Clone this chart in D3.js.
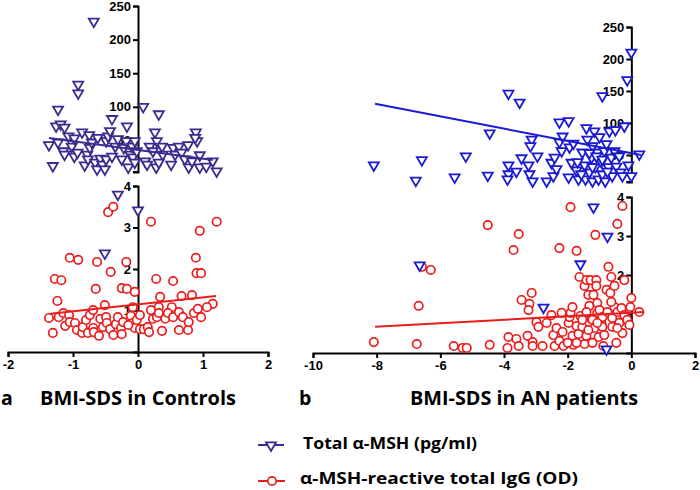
<!DOCTYPE html>
<html><head><meta charset="utf-8">
<script src="https://cdn.jsdelivr.net/npm/d3@7"></script>
<style>body{margin:0;background:#fff}svg{display:block}</style>
</head><body><svg id="c" width="700" height="490"></svg>
<script>
// ---- data ----
const ctrlTicksX = [-2,-1,0,1,2];
const anTicksX = [-10,-8,-6,-4,-2,0,2];
const mshTicks = [50,100,150,200,250];
const iggTicks = [1,2,3,4];

const ctrlMshX = [-0.68,-0.92,-0.92,-1.23,0.08,0.32,-0.40,-0.17,-1.26,-1.19,-1.13,-1.37,-1.31,-1.23,-1.15,-1.13,-1.07,-1.02,-0.98,-0.93,-0.98,-0.86,-0.82,-0.78,-0.75,-0.74,-0.71,-0.77,-0.66,-0.63,-0.62,-0.58,-0.55,-0.51,-0.49,-0.49,-0.46,-0.43,-0.40,-0.35,-0.31,-0.25,-0.22,-0.18,-0.15,-0.12,-0.09,-0.08,-0.05,-0.02,-0.05,0.11,0.14,0.18,0.23,0.26,0.29,0.28,0.32,0.37,0.38,0.51,0.54,0.57,0.63,0.67,0.72,0.77,0.78,0.83,0.89,0.91,0.88,0.95,0.95,1.05,1.15,1.21];
const ctrlMshY = [226,132,119,95,99,88,81,70,70,73,68,42,11,46,33,28,55,40,25,31,52,61,12,28,57,38,46,21,16,6,53,22,13,6,21,48,55,63,25,40,51,21,38,48,9,28,40,24,48,33,16,18,13,40,33,61,48,9,16,40,28,13,38,28,40,31,21,42,9,18,61,48,53,27,9,10,18,3];
const ctrlMshLowX = [-0.31,0,-0.51];
const ctrlMshLowY = [3.78,3.40,2.36];
const ctrlIggX = [-0.46,-0.38,0.20,1.21,0.95,-1.05,-0.92,-0.63,-0.18,0.89,-0.42,0.90,0.97,-1.28,-1.18,0.28,0.54,-0.65,-0.25,-0.17,-0.05,0.34,0.67,0.83,-1.24,-0.51,-0.08,0.20,0.32,0.52,1.15,1.06,-1.37,-1.31,-1.22,-1.15,-1.12,-1.06,-1.05,-0.97,-0.94,-0.86,-0.85,-0.80,-0.77,-0.74,-0.69,-0.69,-0.68,-0.60,-0.58,-0.54,-0.49,-0.48,-0.43,-0.38,-0.34,-0.31,-0.26,-0.25,-0.23,-0.11,-0.08,-0.05,-0.02,0.03,0.09,0.15,0.17,0.23,0.29,0.32,0.37,0.42,0.46,0.54,0.63,0.63,0.69,0.77,0.78,0.86,0.92,0.97,0.03,-0.15];
const ctrlIggY = [3.37,3.50,3.14,3.14,2.92,2.27,2.22,2.17,2.17,2.27,1.93,1.90,1.90,1.76,1.73,1.76,1.71,1.52,1.54,1.52,1.45,1.33,1.35,1.37,1.23,1.13,1.08,1.01,1.08,1.08,1.16,1.08,0.82,0.46,0.84,0.94,0.63,0.89,0.72,0.70,0.53,0.46,0.60,0.77,0.46,0.89,0.58,1.01,0.48,0.39,0.80,0.60,0.84,0.70,0.55,0.41,0.67,0.84,0.58,0.43,0.72,0.87,0.70,0.58,0.77,0.55,0.55,0.60,0.48,0.80,0.84,0.94,0.51,0.80,0.94,0.84,0.96,0.53,0.84,0.53,0.72,0.94,1.04,0.84,0.89,0.65];
const ctrlMshFitX = [-1.37,1.15];
const ctrlMshFitY = [53.6,20.8];
const ctrlIggFitX = [-1.35,1.2];
const ctrlIggFitY = [0.92,1.35];

const anMshX = [0.0,-0.13,-0.91,-3.86,-3.51,-2.26,-1.97,-0.22,-4.45,-8.09,-6.77,-6.58,-5.55,-5.20,-4.51,-3.86,-3.86,-3.89,-3.61,-3.45,-3.23,-3.20,-3.10,-3.13,-3.17,-2.95,-2.66,-2.51,-2.45,-2.41,-2.35,-2.26,-2.16,-2.19,-1.94,-1.88,-1.97,-1.82,-1.72,-1.66,-1.54,-1.47,-1.41,-1.38,-1.44,-1.32,-1.25,-1.22,-1.22,-1.16,-1.13,-1.07,-1.03,-1.00,-0.94,-0.91,-0.85,-0.82,-0.78,-0.72,-0.69,-0.63,-0.60,-0.50,-0.53,-0.47,-0.38,-0.34,-0.28,-0.09,0.0,0.25,-1.69,-1.32,-1.10,-1.57,-0.91,-0.75,-1.22];
const anMshY = [209,166,141,145,131,100,102,94,83,33,9,41,14,47,17,33,19,11,23,44,33,19,8,73,63,47,8,37,16,45,27,69,78,55,61,37,14,67,25,11,53,33,91,73,11,22,45,8,63,86,30,53,11,77,38,19,55,8,66,30,86,45,16,88,55,31,47,22,16,33,16,50,38,52,47,19,42,23,30];
const anMshLowX = [-1.19,-0.75,-6.65,-1.60,-2.76,-0.78];
const anMshLowY = [3.72,2.97,2.23,2.26,1.15,0.08];
const anIggX = [-1.91,-0.28,-4.51,-0.44,-3.54,-1.13,-3.70,-2.26,-1.72,-6.58,-6.30,-6.68,-8.09,-6.74,-5.58,-5.30,-5.17,-4.45,-3.89,-3.86,-3.61,-3.54,-3.45,-3.20,-3.13,-3.23,-3.26,-3.10,-3.10,-2.98,-2.92,-2.79,-2.66,-2.51,-2.45,-2.41,-2.35,-2.26,-2.19,-2.16,-2.13,-1.97,-1.94,-1.91,-1.85,-1.85,-1.82,-1.72,-1.66,-1.63,-1.60,-1.54,-1.47,-1.47,-1.41,-1.41,-1.35,-1.32,-1.28,-1.25,-1.22,-1.19,-1.16,-1.10,-1.10,-1.07,-1.07,-1.03,-1.00,-0.94,-0.91,-0.91,-0.88,-0.85,-0.78,-0.75,-0.72,-0.66,-0.63,-0.60,-0.60,-0.53,-0.53,-0.47,-0.44,-0.38,-0.31,-0.28,-0.22,-0.22,-0.13,-0.06,0.00,-0.03,0.25,-1.41,-1.54,-1.35,-1.22,-1.07,-0.63,-0.44,-1.72,-2.00];
const anIggY = [3.74,3.77,3.28,3.31,3.05,3.03,2.64,2.69,2.62,2.21,2.13,1.21,0.28,0.23,0.18,0.13,0.13,0.21,0.13,0.41,0.36,0.18,1.36,1.26,1.54,1.10,0.44,0.28,0.18,0.79,0.67,0.18,0.77,0.97,0.46,0.18,0.64,0.31,1.03,0.54,0.18,0.77,0.92,1.03,0.44,1.18,0.21,0.69,0.49,1.95,0.95,0.67,1.72,0.23,1.87,0.44,1.49,1.21,1.87,0.87,0.26,1.49,0.64,1.87,1.72,1.28,1.03,0.41,1.10,0.77,0.92,0.67,0.18,0.46,1.62,1.05,2.21,1.54,1.95,0.67,0.90,1.72,1.18,0.26,1.05,0.77,1.15,0.51,1.87,0.97,0.85,0.72,1.41,1.18,1.05,1.05,0.85,0.59,0.85,0.77,1.31,0.64,0.26,0.26];
const anMshFitX = [-8.05,0.3];
const anMshFitY = [130,50];
const anIggFitX = [-8.05,0.4];
const anIggFitY = [0.67,1.05];

const legendLabels = ["Total \u03b1-MSH (pg/ml)", "\u03b1-MSH-reactive total IgG (OD)"];

// ---- drawing ----
const svg = d3.select("#c");
const PURPLE = "#3b2b8e", BLUE = "#1a1ad2", RED = "#ec1c1c";
const tickFont = "bold 13px 'Liberation Sans', Arial, sans-serif";

const tri = "M-5,-3.6L5,-3.6L0,5Z";

function styleAxis(g){
  g.selectAll("path,line").attr("stroke","#000").attr("stroke-width",2);
  g.selectAll("text").style("font",tickFont).attr("fill","#000");
}

function panel(cfg){
  const x = d3.scaleLinear().domain(cfg.xDom).range(cfg.xRange);
  const yU = d3.scaleLinear().domain(cfg.yUDom).range(cfg.yURange);
  const yL = d3.scaleLinear().domain([0,4]).range(cfg.yLRange);
  const g = svg.append("g");
  const gx = g.append("g").attr("transform",`translate(0,${cfg.yLRange[0]})`)
    .call(d3.axisBottom(x).tickValues(cfg.xTicks).tickSizeOuter(0).tickSize(5).tickPadding(3).tickFormat(d=>String(d)));
  styleAxis(gx);
  const gyu = g.append("g").attr("transform",`translate(${x(0)},0)`)
    .call(d3.axisLeft(yU).tickValues(mshTicks).tickSizeOuter(0).tickSize(5).tickPadding(2).tickFormat(d=>String(d)));
  styleAxis(gyu);
  gyu.append("line").attr("x1",-5).attr("x2",0).attr("y1",cfg.yURange[0]).attr("y2",cfg.yURange[0]).attr("stroke","#000").attr("stroke-width",2);
  const gyl = g.append("g").attr("transform",`translate(${x(0)},0)`)
    .call(d3.axisLeft(yL).tickValues(iggTicks).tickSizeOuter(0).tickSize(5).tickPadding(2).tickFormat(d=>String(d)));
  styleAxis(gyl);

  g.append("g").selectAll("path").data(cfg.mshX.map((d,i)=>[d,cfg.mshY[i]])).join("path")
    .attr("d",tri).attr("transform",d=>`translate(${x(d[0])},${yU(d[1])})`)
    .attr("fill","#fff").attr("stroke",cfg.triColor).attr("stroke-width",1.8);
  g.append("g").selectAll("circle").data(cfg.iggX.map((d,i)=>[d,cfg.iggY[i]])).join("circle")
    .attr("cx",d=>x(d[0])).attr("cy",d=>yL(d[1])).attr("r",4.2)
    .attr("fill","#fff").attr("stroke",RED).attr("stroke-width",1.7);
  g.append("g").selectAll("path").data(cfg.lowX.map((d,i)=>[d,cfg.lowY[i]])).join("path")
    .attr("d",tri).attr("transform",d=>`translate(${x(d[0])},${yL(d[1])})`)
    .attr("fill","#fff").attr("stroke",cfg.triColor).attr("stroke-width",1.8);
  const lineU = d3.line().x(d=>x(d[0])).y(d=>yU(d[1]));
  const lineL = d3.line().x(d=>x(d[0])).y(d=>yL(d[1]));
  g.append("path").attr("d",lineU(cfg.mshFitX.map((d,i)=>[d,cfg.mshFitY[i]])))
    .attr("stroke",cfg.triColor).attr("stroke-width",2).attr("fill","none");
  g.append("path").attr("d",lineL(cfg.iggFitX.map((d,i)=>[d,cfg.iggFitY[i]])))
    .attr("stroke",RED).attr("stroke-width",2).attr("fill","none");
}

panel({xDom:[-2,2], xRange:[8,268], xTicks:ctrlTicksX,
  yUDom:[3,250], yURange:[172,6], yLRange:[352,186],
  mshX:ctrlMshX, mshY:ctrlMshY, iggX:ctrlIggX, iggY:ctrlIggY, lowX:ctrlMshLowX, lowY:ctrlMshLowY,
  mshFitX:ctrlMshFitX, mshFitY:ctrlMshFitY, iggFitX:ctrlIggFitX, iggFitY:ctrlIggFitY, triColor:PURPLE});

panel({xDom:[-10,2], xRange:[313,695], xTicks:anTicksX,
  yUDom:[8,250], yURange:[181.9,27], yLRange:[353,197],
  mshX:anMshX, mshY:anMshY, iggX:anIggX, iggY:anIggY, lowX:anMshLowX, lowY:anMshLowY,
  mshFitX:anMshFitX, mshFitY:anMshFitY, iggFitX:anIggFitX, iggFitY:anIggFitY, triColor:BLUE});

// titles
const titleFont = "bold 19.5px 'Open Sans', Lato, sans-serif";
svg.append("text").attr("x",1).attr("y",405).text("a").style("font",titleFont);
svg.append("text").attr("x",40).attr("y",405).text("BMI-SDS in Controls").style("font",titleFont).attr("textLength",196).attr("lengthAdjust","spacingAndGlyphs");
svg.append("text").attr("x",299).attr("y",405).text("b").style("font",titleFont);
svg.append("text").attr("x",410).attr("y",405).text("BMI-SDS in AN patients").style("font",titleFont).attr("textLength",228).attr("lengthAdjust","spacingAndGlyphs");

// legend
const legFont = "bold 16px 'Open Sans', Lato, sans-serif";
const lg = svg.append("g");
lg.append("line").attr("x1",258).attr("x2",284).attr("y1",445).attr("y2",445).attr("stroke",PURPLE).attr("stroke-width",2);
lg.append("path").attr("d",tri).attr("transform","translate(271,446)").attr("fill","#fff").attr("stroke",PURPLE).attr("stroke-width",1.8);
lg.append("text").attr("x",303).attr("y",449).text(legendLabels[0]).style("font",legFont).attr("textLength",174).attr("lengthAdjust","spacingAndGlyphs");
lg.append("line").attr("x1",258).attr("x2",285).attr("y1",481).attr("y2",481).attr("stroke",RED).attr("stroke-width",2);
lg.append("circle").attr("cx",272).attr("cy",481).attr("r",4.2).attr("fill","#fff").attr("stroke",RED).attr("stroke-width",1.7);
lg.append("text").attr("x",300).attr("y",484).text(legendLabels[1]).style("font",legFont).attr("textLength",278).attr("lengthAdjust","spacingAndGlyphs");
</script></body></html>
